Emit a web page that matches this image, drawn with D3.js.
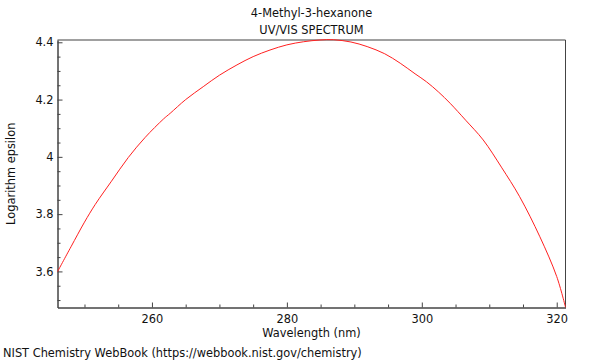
<!DOCTYPE html>
<html>
<head>
<meta charset="utf-8">
<script src="https://cdn.jsdelivr.net/npm/d3@7"></script>
<style>
  html, body { margin: 0; padding: 0; background: #fff; }
  svg { display: block; font-family: "DejaVu Sans", sans-serif; }
</style>
</head>
<body>
<svg id="chart" width="600" height="360"></svg>
<script>
// ---- data ----
const wavelength = [246.0, 248.0, 250.0, 251.6, 254.0, 256.5, 259.0, 261.7, 262.7, 265.0, 267.6, 270.0, 272.6, 275.0, 277.5, 280.0, 282.5, 284.9, 286.9, 289.5, 291.9, 294.5, 296.8, 299.0, 300.7, 302.5, 304.2, 306.5, 309.1, 311.8, 314.5, 317.5, 320.0, 321.3];
const logEpsilon = [3.599, 3.686, 3.772, 3.834, 3.915, 3.998, 4.068, 4.132, 4.152, 4.200, 4.245, 4.285, 4.321, 4.350, 4.373, 4.391, 4.402, 4.408, 4.409, 4.401, 4.385, 4.360, 4.327, 4.290, 4.262, 4.226, 4.187, 4.128, 4.059, 3.964, 3.861, 3.721, 3.582, 3.475];
const xMajorTicks = [260, 280, 300, 320];
const xMinorTicks = [250, 255, 265, 270, 275, 285, 290, 295, 305, 310, 315];
const yMajorTicks = [3.6, 3.8, 4.0, 4.2, 4.4];
const yMajorLabels = ["3.6", "3.8", "4", "4.2", "4.4"];
const yMinorTicks = [3.5, 3.55, 3.65, 3.7, 3.75, 3.85, 3.9, 3.95, 4.05, 4.1, 4.15, 4.25, 4.3, 4.35];
const titleLines = ["4-Methyl-3-hexanone", "UV/VIS SPECTRUM"];
const xLabel = "Wavelength (nm)";
const yLabel = "Logarithm epsilon";
const footer = "NIST Chemistry WebBook (https://webbook.nist.gov/chemistry)";

// ---- layout ----
const L = 57.5, R = 565.5, T = 40, B = 307.5;
const FS = "11.4px";
const svg = d3.select("#chart");

const x = d3.scaleLinear().domain([246.0, 321.3]).range([L, R]);
const y = d3.scaleLinear().domain([3.474, 4.408]).range([B, T]);

// frame: top (light gray), right
svg.append("line").attr("x1", L).attr("x2", R).attr("y1", T).attr("y2", T)
  .attr("stroke", "#a0a0a0").attr("stroke-width", 2);
svg.append("line").attr("x1", R).attr("x2", R).attr("y1", T).attr("y2", B)
  .attr("stroke", "#444").attr("stroke-width", 1);

// x axis
const gx = svg.append("g").attr("transform", `translate(0,${B})`);
gx.call(d3.axisBottom(x).tickValues(xMajorTicks).tickSize(-5).tickSizeOuter(0).tickPadding(7).tickFormat(d3.format("d")));
const gxm = svg.append("g").attr("transform", `translate(0,${B})`);
gxm.call(d3.axisBottom(x).tickValues(xMinorTicks).tickSize(-3).tickSizeOuter(0).tickFormat(""));

// y axis
const gy = svg.append("g").attr("transform", `translate(${L},0)`);
gy.call(d3.axisLeft(y).tickValues(yMajorTicks).tickSize(-5).tickSizeOuter(0).tickPadding(4)
  .tickFormat((d, i) => yMajorLabels[i]));
const gym = svg.append("g").attr("transform", `translate(${L},0)`);
gym.call(d3.axisLeft(y).tickValues(yMinorTicks).tickSize(-3).tickSizeOuter(0).tickFormat(""));

[gx, gxm, gy, gym].forEach(g => {
  g.selectAll(".domain").attr("stroke", "#444");
  g.selectAll(".tick line").attr("stroke", "#444");
  g.selectAll("text").attr("fill", "#111").style("font-size", FS).style("font-family", "DejaVu Sans, sans-serif");
});

// curve
const line = d3.line().x((d, i) => x(wavelength[i])).y(d => y(d)).curve(d3.curveCatmullRom);
svg.append("path").datum(logEpsilon).attr("d", line)
  .attr("fill", "none").attr("stroke", "#ff2020").attr("stroke-width", 1);

// texts
const cx = (L + R) / 2;
svg.append("text").attr("x", cx).attr("y", 17).attr("text-anchor", "middle")
  .style("font-size", FS).attr("fill", "#111").text(titleLines[0]);
svg.append("text").attr("x", cx).attr("y", 34).attr("text-anchor", "middle")
  .style("font-size", FS).attr("fill", "#111").text(titleLines[1]);
svg.append("text").attr("x", cx).attr("y", 337).attr("text-anchor", "middle")
  .style("font-size", FS).attr("fill", "#111").text(xLabel);
svg.append("text").attr("transform", `translate(15,${(T + B) / 2}) rotate(-90)`).attr("text-anchor", "middle")
  .style("font-size", FS).attr("fill", "#111").text(yLabel);
svg.append("text").attr("x", 3).attr("y", 357)
  .style("font-size", FS).attr("fill", "#111").text(footer);
</script>
</body>
</html>
